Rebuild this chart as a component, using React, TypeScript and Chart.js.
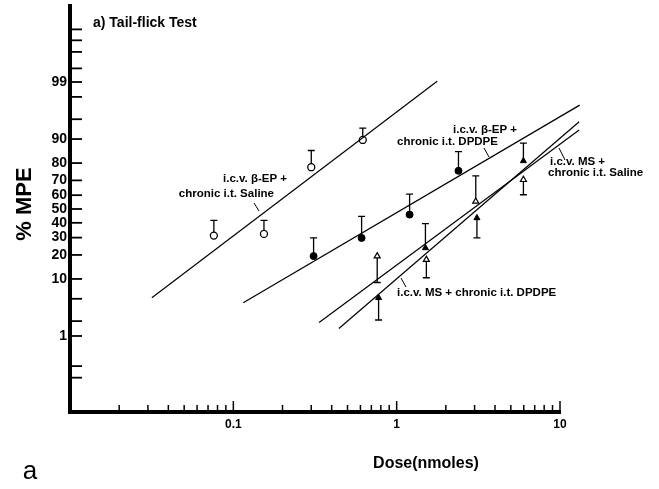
import React, { useEffect, useRef } from "react";
import { Chart, registerables } from "chart.js";

Chart.register(...registerables);

// ---------- data (dose in nmoles, response in % MPE) ----------
// i.c.v. beta-EP + chronic i.t. Saline (open circles)
const bepSalineDose = [0.076, 0.154, 0.3, 0.62];
const bepSalinePct = [31.3, 32.4, 77.8, 89.7];
const bepSalineErr = [41.8, 41.8, 85.8, 93.1];
const bepSalineFitDose = [0.0317, 1.77];
const bepSalineFitPct = [5.2, 99.04];

// i.c.v. beta-EP + chronic i.t. DPDPE (filled circles)
const bepDpdpeDose = [0.31, 0.61, 1.2, 2.39];
const bepDpdpePct = [19.4, 29.8, 45.9, 75.8];
const bepDpdpeErr = [29.8, 44.6, 60.8, 85.3];
const bepDpdpeFitDose = [0.115, 13.2];
const bepDpdpeFitPct = [4.3, 97.15];

// i.c.v. MS + chronic i.t. Saline (open triangles)
const msSalineDose = [0.76, 1.52, 3.05, 5.97];
const msSalinePct = [19.4, 17.7, 55.5, 70.4];
const msSalineErr = [8.9, 10.4, 72.8, 60.3];
const msSalineFitDose = [0.335, 13.1];
const msSalineFitPct = [1.88, 92.6];

// i.c.v. MS + chronic i.t. DPDPE (filled triangles)
const msDpdpeDose = [0.775, 1.5, 3.1, 5.97];
const msDpdpePct = [5.2, 23.8, 43.5, 81.1];
const msDpdpeErr = [2.1, 39.4, 29.8, 88.6];
const msDpdpeFitDose = [0.443, 13.1];
const msDpdpeFitPct = [1.43, 94.5];

// axis ticks
const yLabelTicks = [1, 10, 20, 30, 40, 50, 60, 70, 80, 90, 99];
const yMinorTicks = [0.1, 0.2, 2, 5, 95, 98, 99.5, 99.8, 99.9, 99.95];
const yMinPct = 0.01;
const yMaxPct = 99.99;
const xLabelTicks = [0.1, 1, 10];
const xMin = 0.01;
const xMax = 10;

// ---------- probability (probit) transform ----------
function probit(pct: number): number {
  const p = pct / 100;
  const a = [-3.969683028665376e1, 2.209460984245205e2, -2.759285104469687e2, 1.38357751867269e2, -3.066479806614716e1, 2.506628277459239];
  const b = [-5.447609879822406e1, 1.615858368580409e2, -1.556989798598866e2, 6.680131188771972e1, -1.328068155288572e1];
  const c = [-7.784894002430293e-3, -3.223964580411365e-1, -2.400758277161838, -2.54967134819396, 4.374664141464968, 2.938163982698783];
  const d = [7.784695709041462e-3, 3.224671290700398e-1, 2.445134137142996, 3.754408661907416];
  const pl = 0.02425;
  let q: number, r: number;
  if (p < pl) {
    q = Math.sqrt(-2 * Math.log(p));
    return (((((c[0] * q + c[1]) * q + c[2]) * q + c[3]) * q + c[4]) * q + c[5]) / ((((d[0] * q + d[1]) * q + d[2]) * q + d[3]) * q + 1);
  }
  if (p <= 1 - pl) {
    q = p - 0.5;
    r = q * q;
    return ((((((a[0] * r + a[1]) * r + a[2]) * r + a[3]) * r + a[4]) * r + a[5]) * q) / (((((b[0] * r + b[1]) * r + b[2]) * r + b[3]) * r + b[4]) * r + 1);
  }
  q = Math.sqrt(-2 * Math.log(1 - p));
  return -(((((c[0] * q + c[1]) * q + c[2]) * q + c[3]) * q + c[4]) * q + c[5]) / ((((d[0] * q + d[1]) * q + d[2]) * q + d[3]) * q + 1);
}

const FONT = '"Liberation Sans", Arial, Helvetica, sans-serif';

const pts = (xs: number[], ys: number[]) => xs.map((x, i) => ({ x, y: probit(ys[i]) }));

const errorSeries = [
  { dose: bepSalineDose, pct: bepSalinePct, err: bepSalineErr },
  { dose: bepDpdpeDose, pct: bepDpdpePct, err: bepDpdpeErr },
  { dose: msSalineDose, pct: msSalinePct, err: msSalineErr },
  { dose: msDpdpeDose, pct: msDpdpePct, err: msDpdpeErr },
];

const decorPlugin = {
  id: "decor",
  beforeDatasetsDraw(chart: any) {
    const { ctx, scales } = chart;
    const xs = scales.x;
    const ys = scales.y;
    ctx.save();
    ctx.strokeStyle = "#000";
    ctx.lineWidth = 1.3;
    for (const s of errorSeries) {
      s.dose.forEach((d, i) => {
        const px = xs.getPixelForValue(d);
        const py = ys.getPixelForValue(probit(s.pct[i]));
        const pe = ys.getPixelForValue(probit(s.err[i]));
        ctx.beginPath();
        ctx.moveTo(px, py);
        ctx.lineTo(px, pe);
        ctx.moveTo(px - 3.5, pe);
        ctx.lineTo(px + 3.5, pe);
        ctx.stroke();
      });
    }
    ctx.restore();
  },
  afterDraw(chart: any) {
    const { ctx, scales, chartArea } = chart;
    const xs = scales.x;
    const ys = scales.y;
    ctx.save();
    ctx.strokeStyle = "#000";
    ctx.fillStyle = "#000";
    // inward y ticks
    ctx.lineWidth = 1.8;
    const yAll = [...yLabelTicks, ...yMinorTicks];
    for (const p of yAll) {
      const y = ys.getPixelForValue(probit(p));
      ctx.beginPath();
      ctx.moveTo(chartArea.left, y);
      ctx.lineTo(chartArea.left + 12, y);
      ctx.stroke();
    }
    // inward x ticks
    ctx.lineWidth = 1.5;
    for (const t of xs.ticks) {
      const x = xs.getPixelForValue(t.value);
      const major = xLabelTicks.some((v) => Math.abs(v - t.value) < 1e-9);
      ctx.beginPath();
      ctx.moveTo(x, chartArea.bottom);
      ctx.lineTo(x, chartArea.bottom - (major ? 11 : 7));
      ctx.stroke();
    }
    // leader lines
    ctx.lineWidth = 1;
    const leaders = [
      [254, 203, 259, 211],
      [484, 148, 489, 157],
      [559, 148, 565, 160],
      [401, 278, 406, 287],
    ];
    for (const [x1, y1, x2, y2] of leaders) {
      ctx.beginPath();
      ctx.moveTo(x1, y1);
      ctx.lineTo(x2, y2);
      ctx.stroke();
    }
    // texts
    ctx.textBaseline = "middle";
    ctx.textAlign = "left";
    ctx.font = `bold 14px ${FONT}`;
    ctx.fillText("a) Tail-flick Test", 93, 23);

    ctx.font = `bold 11.5px ${FONT}`;
    ctx.fillText("i.c.v. \u03B2-EP +", 223, 179);
    ctx.textAlign = "right";
    ctx.fillText("chronic i.t. Saline", 274, 194);
    ctx.textAlign = "left";
    ctx.fillText("i.c.v. \u03B2-EP +", 453, 130);
    ctx.fillText("chronic i.t. DPDPE", 397, 142);
    ctx.fillText("i.c.v. MS +", 550, 162);
    ctx.fillText("chronic i.t. Saline", 548, 173);
    ctx.fillText("i.c.v. MS + chronic i.t. DPDPE", 397, 293);

    // axis titles
    ctx.textAlign = "center";
    ctx.font = `bold 16px ${FONT}`;
    ctx.fillText("Dose(nmoles)", 426, 464);
    ctx.font = `26px ${FONT}`;
    ctx.fillText("a", 30, 472);

    ctx.save();
    ctx.translate(25, 204);
    ctx.rotate(-Math.PI / 2);
    ctx.font = `bold 22px ${FONT}`;
    ctx.fillText("% MPE", 0, 0);
    ctx.restore();

    ctx.restore();
  },
};

export default function App() {
  const ref = useRef<HTMLCanvasElement | null>(null);

  useEffect(() => {
    if (!ref.current) return;
    const fitStyle = { showLine: true, pointRadius: 0, borderColor: "#000", borderWidth: 1.2, clip: false as any, fill: false };
    const chart = new Chart(ref.current, {
      type: "scatter",
      data: {
        datasets: [
          { label: "fit1", data: pts(bepSalineFitDose, bepSalineFitPct), ...fitStyle },
          { label: "fit2", data: pts(bepDpdpeFitDose, bepDpdpeFitPct), ...fitStyle },
          { label: "fit3", data: pts(msSalineFitDose, msSalineFitPct), ...fitStyle },
          { label: "fit4", data: pts(msDpdpeFitDose, msDpdpeFitPct), ...fitStyle },
          {
            label: "i.c.v. β-EP + chronic i.t. Saline",
            data: pts(bepSalineDose, bepSalinePct),
            pointStyle: "circle",
            pointRadius: 3.5,
            backgroundColor: "#fff",
            borderColor: "#000",
            borderWidth: 1.3,
            clip: false as any,
          },
          {
            label: "i.c.v. β-EP + chronic i.t. DPDPE",
            data: pts(bepDpdpeDose, bepDpdpePct),
            pointStyle: "circle",
            pointRadius: 3.5,
            backgroundColor: "#000",
            borderColor: "#000",
            borderWidth: 1,
            clip: false as any,
          },
          {
            label: "i.c.v. MS + chronic i.t. Saline",
            data: pts(msSalineDose, msSalinePct),
            pointStyle: "triangle",
            pointRadius: 3.5,
            backgroundColor: "#fff",
            borderColor: "#000",
            borderWidth: 1.2,
            clip: false as any,
          },
          {
            label: "i.c.v. MS + chronic i.t. DPDPE",
            data: pts(msDpdpeDose, msDpdpePct),
            pointStyle: "triangle",
            pointRadius: 3.5,
            backgroundColor: "#000",
            borderColor: "#000",
            borderWidth: 1,
            clip: false as any,
          },
        ],
      },
      options: {
        animation: false,
        responsive: false,
        maintainAspectRatio: false,
        devicePixelRatio: 1,
        layout: { padding: { left: 0, top: 6, right: 99, bottom: 0 } },
        plugins: { legend: { display: false }, tooltip: { enabled: false } },
        scales: {
          x: {
            type: "logarithmic",
            min: xMin,
            max: xMax,
            grid: { display: false, drawTicks: false },
            border: { display: true, width: 4, color: "#000" },
            afterFit: (s: any) => {
              s.height = 77;
            },
            afterBuildTicks: (s: any) => {
              const t: any[] = [];
              for (let e = Math.round(Math.log10(xMin)); e < Math.round(Math.log10(xMax)); e++) {
                for (let m = 1; m <= 9; m++) t.push({ value: m * Math.pow(10, e) });
              }
              t.push({ value: xMax });
              s.ticks = t;
            },
            ticks: {
              autoSkip: false,
              maxRotation: 0,
              padding: 5,
              color: "#000",
              font: { family: FONT, size: 12, weight: "bold" },
              callback: (v: any) => {
                const hit = xLabelTicks.find((x) => Math.abs(x - Number(v)) < 1e-9);
                return hit !== undefined ? String(hit) : [];
              },
            },
          },
          y: {
            type: "linear",
            min: probit(yMinPct),
            max: probit(yMaxPct),
            grid: { display: false, drawTicks: false },
            border: { display: true, width: 4, color: "#000" },
            afterFit: (s: any) => {
              s.width = 70;
            },
            afterBuildTicks: (s: any) => {
              const all = [...yLabelTicks, ...yMinorTicks].sort((a, b) => a - b);
              s.ticks = all.map((p) => ({ value: probit(p), pct: p }));
            },
            ticks: {
              autoSkip: false,
              padding: 3,
              color: "#000",
              font: { family: FONT, size: 14, weight: "bold" },
              callback: (_v: any, i: number, ticks: any[]) => {
                const p = ticks[i].pct;
                return yLabelTicks.includes(p) ? String(p) : [];
              },
            },
          },
        },
      },
      plugins: [decorPlugin],
    });
    return () => chart.destroy();
  }, []);

  return (
    <div style={{ position: "fixed", left: 0, top: 0, width: 659, height: 489, background: "#fff" }}>
      <canvas ref={ref} width={659} height={489} style={{ display: "block", width: 659, height: 489 }} />
    </div>
  );
}
